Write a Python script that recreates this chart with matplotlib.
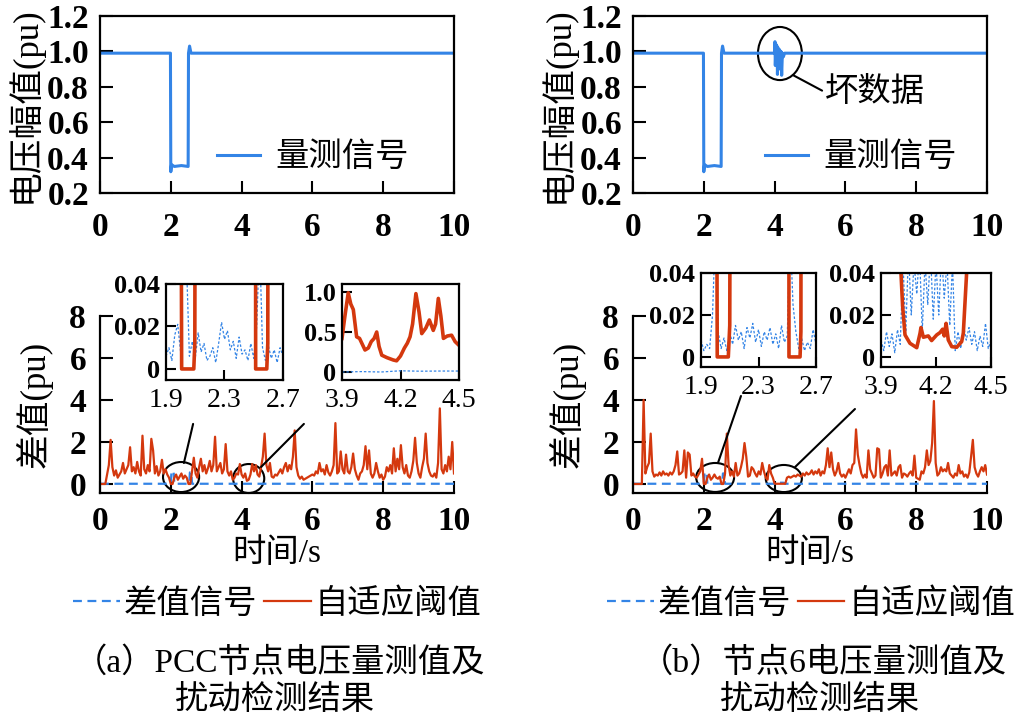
import numpy as np
import matplotlib.pyplot as plt
from matplotlib.patches import Ellipse

plt.rcParams['font.family'] = ['Liberation Serif', 'Noto Sans CJK SC']

BLUE = '#3384e6'
RED = '#d4380e'

# ---------------- measured voltage (pu) ----------------
volt_t_a = [0.0, 1.99, 2.0, 2.02, 2.1, 2.3, 2.49, 2.5, 2.53, 2.57, 10.0]
volt_v_a = [0.99, 0.99, 0.32, 0.36, 0.35, 0.355, 0.35, 0.99, 1.03, 0.99, 0.99]

volt_t_b = [0.0, 1.99, 2.0, 2.02, 2.1, 2.3, 2.49, 2.5, 2.53, 2.57,
            4.0, 4.01, 4.02, 4.04, 4.05, 4.07, 4.08, 4.10, 4.12, 4.14,
            4.16, 4.18, 4.20, 4.22, 4.25, 4.28, 10.0]
volt_v_b = [0.99, 0.99, 0.32, 0.36, 0.35, 0.355, 0.35, 0.99, 1.03, 0.99,
            0.99, 1.055, 0.92, 1.04, 0.95, 1.03, 0.87, 1.02, 0.90, 1.01,
            0.93, 1.0, 0.865, 0.99, 0.97, 0.99, 0.99]

# ---------------- difference signal & adaptive threshold ----------------
t_grid = np.linspace(0, 10, 201)   # 0.05 s spacing

thr_a = [
    0, 0, 0, 0, 0.45, 0.9, 2.1, 0.8, 0.4, 0.65, 0.3, 0.45, 0.6, 1.0, 0.5, 0.7, 0.9, 1.75, 0.6, 0.8,
    0.5, 1.05, 0.6, 0.4, 2.3, 0.7, 0.5, 0.9, 0.6, 2.15, 1.6, 0.5, 0.85, 0.4, 0.6, 1.15, 0.5, 0.7, 0.45, 0.3,
    0.0, 0.0, 0.3, 0.45, 0.2, 0.35, 0.5, 0.25, 0.4, 0.3, 0.0, 0.0, 0.6, 1.25, 0.5, 0.3, 0.8, 1.2, 0.6, 0.9,
    0.5, 0.75, 1.1, 0.6, 0.9, 2.25, 0.6, 0.8, 1.0, 0.5, 0.7, 1.9, 0.6, 0.4, 0.6, 0.2, 0.3, 0.5, 0.45, 0.95,
    0.45, 0.3, 0.5, 0.15, 0.2, 0.45, 0.95, 0.6, 0.9, 0.45, 0.35, 0.8, 1.3, 2.4, 0.9, 0.6, 1.0, 0.35, 0.3, 0.45,
    0.4, 0.55, 0.7, 0.5, 0.8, 1.0, 0.6, 0.9, 0.7, 1.3, 2.55, 0.8, 0.4, 0.25, 0.35, 0.2, 0.25, 0.3, 0.35, 0.4,
    0.45, 0.4, 0.6, 0.5, 1.0, 0.6, 0.7, 0.45, 0.9, 0.55, 0.4, 0.6, 0.9, 2.9, 0.5, 0.6, 1.55, 0.7, 0.5, 1.4,
    0.6, 0.5, 0.8, 1.45, 0.7, 0.4, 0.2, 0.5, 0.6, 0.9, 1.8, 0.7, 1.6, 0.5, 0.3, 0.5, 1.0, 0.6, 0.3, 0.45,
    0.2, 0.35, 0.8, 0.6, 0.9, 0.5, 1.7, 0.6, 1.2, 0.7, 1.85, 0.8, 0.5, 0.9, 0.4, 0.3, 0.6, 1.1, 2.2, 1.0,
    0.5, 0.3, 0.8, 1.2, 2.4, 1.0, 0.6, 0.4, 0.35, 0.5, 0.3, 1.0, 3.6, 0.7, 0.5, 0.9, 0.6, 1.3, 0.7, 2.0,
    0.5]

thr_b = [
    0, 0, 0, 0, 0, 0, 4.0, 0.5, 0.8, 1.0, 2.4, 0.6, 0.35, 0.45, 0.4, 0.55, 0.4, 0.6, 0.45, 0.5,
    0.4, 0.55, 0.45, 0.6, 0.9, 1.55, 0.45, 0.5, 0.6, 1.6, 0.3, 1.5, 1.4, 0.4, 0.5, 0.35, 0.3, 0.45, 0.6, 1.2,
    0.0, 0.0, 0.3, 0.45, 0.2, 0.3, 0.45, 0.3, 0.25, 0.35, 0.0, 0.0, 0.5, 2.4, 0.9, 0.4, 0.6, 0.35, 1.0, 0.4,
    0.5, 0.8, 1.2, 1.95, 1.3, 0.35, 0.4, 0.8, 0.7, 0.5, 0.35, 0.6, 0.45, 1.0, 0.6, 0.3, 0.2, 0.9, 0.5, 0.3,
    0.02, 0.01, 0.01, 0.01, 0.01, 0.01, 0.01, 0.3, 0.35, 0.3, 0.35, 0.4, 0.35, 0.45, 0.4, 0.35, 0.5, 0.4, 0.55, 0.45,
    0.5, 0.65, 0.45, 0.6, 0.5, 0.7, 0.4, 0.6, 0.5, 0.9, 1.7, 0.8, 1.5, 0.7, 0.4, 0.6, 1.0, 0.5, 0.35, 0.45,
    0.3, 0.5, 0.7, 0.5, 0.9, 1.0, 2.6, 1.4, 0.9, 0.5, 0.3, 0.45, 0.3, 1.6, 0.7, 0.5, 0.3, 0.4, 1.7, 1.65,
    0.3, 0.5, 0.8, 0.9, 0.4, 1.6, 0.4, 0.5, 0.6, 0.4, 0.8, 0.9, 0.3, 0.5, 0.45, 0.35, 0.5, 0.6, 0.4, 1.35,
    0.3, 0.25, 0.2, 0.6, 0.5, 0.8, 1.6, 0.9, 1.1, 1.95, 3.95, 1.0, 0.4, 0.5, 0.8, 0.6, 0.7, 0.6, 1.0, 0.5,
    0.4, 0.3, 0.5, 0.4, 0.9, 0.5, 0.6, 0.35, 0.45, 0.3, 0.55, 1.3, 2.1, 0.8, 0.5, 0.35, 0.6, 0.8, 0.6, 0.9,
    0.45]

diff_t_a = [0, 2.0, 2.02, 2.08, 2.1, 2.52, 2.54, 2.58, 2.6, 10]
diff_v_a = [0.01, 0.01, 0.6, 0.6, 0.01, 0.01, 0.55, 0.55, 0.01, 0.01]
diff_t_b = [0, 2.0, 2.02, 2.08, 2.1, 2.52, 2.54, 2.58, 2.6, 4.0, 4.05, 4.25, 4.3, 10]
diff_v_b = [0.01, 0.01, 0.55, 0.55, 0.01, 0.01, 0.5, 0.5, 0.01, 0.01, 0.06, 0.06, 0.01, 0.01]

# ---------------- zoomed views ----------------
zoom1_t = np.linspace(1.9, 2.7, 41)
zoom1_diff_a = [0.006, 0.010, 0.004, 0.016, 0.021, 0.008, 0.06, 0.05, 0.006, 0.013,
                0.005, 0.017, 0.008, 0.012, 0.004, 0.006, 0.010, 0.003, 0.012, 0.022,
                0.014, 0.018, 0.009, 0.013, 0.005, 0.015, 0.007, 0.009, 0.004, 0.012,
                0.005, 0.020, 0.06, 0.010, 0.004, 0.011, 0.005, 0.009, 0.003, 0.010, 0.006]
zoom1_thr_t_a = [1.95, 2.005, 2.007, 2.09, 2.097, 2.105, 2.3, 2.511, 2.513, 2.589, 2.596, 2.602, 2.7]
zoom1_thr_v_a = [0.4, 0.05, 0.0, 0.0, 0.012, 0.3, 0.4, 0.3, 0.0, 0.0, 0.012, 0.4, 0.5]

zoom1_diff_b = [0.008, 0.003, 0.006, 0.004, 0.02, 0.06, 0.012, 0.004, 0.009, 0.003,
                0.012, 0.006, 0.015, 0.008, 0.012, 0.004, 0.014, 0.009, 0.016, 0.007,
                0.013, 0.005, 0.012, 0.008, 0.014, 0.006, 0.011, 0.004, 0.015, 0.007,
                0.010, 0.06, 0.025, 0.012, 0.004, 0.009, 0.003, 0.007, 0.004, 0.013, 0.006]
zoom1_thr_t_b = [1.95, 2.011, 2.013, 2.09, 2.10, 2.11, 2.3, 2.510, 2.512, 2.589, 2.595, 2.60, 2.7]
zoom1_thr_v_b = [0.4, 0.05, 0.0, 0.0, 0.015, 0.3, 0.4, 0.3, 0.0, 0.0, 0.012, 0.4, 0.5]

zoom2_t_a = [3.9, 3.915, 3.932, 3.945, 3.958, 3.975, 3.99, 4.018, 4.035, 4.05, 4.065, 4.078,
             4.09, 4.104, 4.13, 4.163, 4.18, 4.2, 4.22, 4.235, 4.249, 4.262, 4.279, 4.295,
             4.309, 4.33, 4.348, 4.368, 4.38, 4.394, 4.407, 4.42, 4.44, 4.462, 4.48, 4.497]
zoom2_thr_a = [0.42, 0.7, 0.99, 0.85, 0.78, 0.44, 0.42, 0.275, 0.3, 0.38, 0.42, 0.50,
               0.32, 0.21, 0.18, 0.15, 0.14, 0.2, 0.3, 0.36, 0.44, 0.6, 0.98, 0.75,
               0.48, 0.55, 0.65, 0.52, 0.6, 0.92, 0.7, 0.42, 0.45, 0.46, 0.38, 0.34]
zoom2_diff_t_a = [3.9, 4.0, 4.1, 4.2, 4.3, 4.4, 4.5]
zoom2_diff_a = [0.0, 0.005, 0.0, 0.015, 0.01, 0.012, 0.012]

zoom2_t_b = np.linspace(3.9, 4.5, 41)
zoom2_diff_b = [0.008, 0.003, 0.012, 0.005, 0.011, 0.002, 0.013, 0.006, 0.045, 0.012,
                0.05, 0.02, 0.045, 0.03, 0.05, 0.012, 0.045, 0.025, 0.05, 0.018,
                0.045, 0.02, 0.05, 0.028, 0.045, 0.015, 0.045, 0.003, 0.012, 0.004,
                0.015, 0.008, 0.014, 0.006, 0.012, 0.003, 0.010, 0.005, 0.016, 0.004, 0.008]
zoom2_thr_t_b = [3.95, 4.005, 4.009, 4.018, 4.031, 4.058, 4.095, 4.113, 4.118, 4.131, 4.158,
                 4.176, 4.204, 4.222, 4.236, 4.245, 4.255, 4.267, 4.286, 4.313, 4.34, 4.349,
                 4.367, 4.38, 4.45]
zoom2_thr_b = [0.3, 0.1, 0.04, 0.024, 0.0105, 0.0065, 0.0044, 0.0113, 0.014, 0.0094, 0.01,
               0.0078, 0.0105, 0.0116, 0.0132, 0.01, 0.016, 0.0081, 0.0049, 0.0046, 0.0073, 0.0113,
               0.04, 0.1, 0.3]

fig = plt.figure(figsize=(10.18, 7.19), dpi=100)
W, H = 1018.0, 719.0


def box(l, t, r, b):
    return [l / W, 1 - b / H, (r - l) / W, (b - t) / H]


def style(ax, size=24, length=9, pad=6, bold=False):
    ax.tick_params(direction='in', length=length, width=1.5, labelsize=size, pad=pad,
                   top=False, right=False)
    for s in ax.spines.values():
        s.set_linewidth(1.6)
    if bold:
        for lab in ax.get_xticklabels() + ax.get_yticklabels():
            lab.set_fontweight('bold')


def top_panel(left, right, tt, vv, leg_x):
    ax = fig.add_axes(box(left, 16, right, 193))
    ln, = ax.plot(tt, vv, color=BLUE, lw=2.2)
    ax.set_xlim(0, 10)
    ax.set_ylim(0.2, 1.2)
    ax.set_xticks([0, 2, 4, 6, 8, 10])
    ax.set_yticks([0.2, 0.4, 0.6, 0.8, 1.0, 1.2])
    ax.set_yticklabels(['0.2', '0.4', '0.6', '0.8', '1.0', '1.2'])
    style(ax, bold=True)
    ax.tick_params(axis='x', pad=14)
    ax.tick_params(axis='y', pad=8)
    ax.set_ylabel('电压幅值(pu)', fontsize=25, labelpad=3)
    ax.legend([ln], ['量测信号'], loc='center left', bbox_to_anchor=(leg_x, 0.198),
              frameon=False, fontsize=24, handlelength=1.3, handletextpad=0.45,
              borderpad=0, borderaxespad=0)
    return ax


def bottom_panel(left, right, thr, dt, dv, ells, lines):
    ax = fig.add_axes(box(left, 316, right, 493))
    hb, = ax.plot(dt, dv, color=BLUE, lw=1.6, dashes=(4, 2.5))
    hr, = ax.plot(t_grid, thr, color=RED, lw=1.6)
    ax.set_xlim(0, 10)
    ax.set_ylim(-0.43, 8)
    ax.set_xticks([0, 2, 4, 6, 8, 10])
    ax.set_yticks([0, 2, 4, 6, 8])
    ax.spines['top'].set_visible(False)
    ax.spines['right'].set_visible(False)
    style(ax, bold=True)
    ax.tick_params(axis='x', pad=9)
    ax.tick_params(axis='y', pad=10)
    ax.set_xlabel('时间/s', fontsize=24, labelpad=1)
    ax.set_ylabel('差值(pu)', fontsize=25, labelpad=12)
    for (cx, cy, w, h) in ells:
        ax.add_patch(Ellipse((cx, cy), w, h, fill=False, ec='black', lw=1.5, clip_on=False))
    for (x0, y0, x1, y1) in lines:
        ax.annotate('', xy=(x1, y1), xytext=(x0, y0),
                    arrowprops=dict(arrowstyle='-', color='black', lw=1.5,
                                    shrinkA=0, shrinkB=0))
    return ax, hb, hr


def inset(rect, xlim, xticks, ylim, yticks, ylabels):
    ax = fig.add_axes(rect)
    ax.set_facecolor('white')
    ax.set_xlim(*xlim)
    ax.set_ylim(*ylim)
    ax.set_xticks(xticks)
    ax.set_xticklabels([f'{v:.1f}' for v in xticks])
    ax.set_yticks(yticks)
    ax.set_yticklabels(ylabels)
    style(ax, size=19, length=7, pad=4)
    for lab in ax.get_yticklabels():
        lab.set_fontweight('bold')
    ax.tick_params(axis='x', pad=6, labelsize=20)
    return ax


# ---- (a) ----
top_panel(100, 454, volt_t_a, volt_v_a, 0.33)
ax_a, hb, hr = bottom_panel(100, 454, thr_a, diff_t_a, diff_v_a,
                            [(2.29, 0.33, 1.02, 1.43), (4.2, 0.26, 0.88, 1.38)],
                            [(2.37, 1.0, 2.63, 2.86), (4.55, 0.81, 5.76, 2.86)])

ia1 = inset(box(166, 284, 283, 380), (1.9, 2.7), [1.9, 2.3, 2.7], (-0.0052, 0.04),
            [0, 0.02, 0.04], ['0', '0.02', '0.04'])
ia1.plot(zoom1_t, zoom1_diff_a, color=BLUE, lw=0.9, dashes=(2, 1.5))
ia1.plot(zoom1_thr_t_a, zoom1_thr_v_a, color=RED, lw=2.6)

ia2 = inset(box(342, 284, 459, 380), (3.9, 4.5), [3.9, 4.2, 4.5], (-0.1, 1.1),
            [0, 0.5, 1.0], ['0', '0.5', '1.0'])
ia2.plot(zoom2_diff_t_a, zoom2_diff_a, color=BLUE, lw=0.9, dashes=(2, 1.5))
ia2.plot(zoom2_t_a, zoom2_thr_a, color=RED, lw=2.6)

# ---- (b) ----
ax_top_b = top_panel(633, 987, volt_t_b, volt_v_b, 0.373)
ax_top_b.add_patch(Ellipse((4.15, 0.988), 1.24, 0.30, fill=False, ec='black', lw=1.5))
ax_top_b.annotate('坏数据', xy=(4.52, 0.866), xytext=(5.42, 0.77), fontsize=24,
                  va='center', ha='left',
                  arrowprops=dict(arrowstyle='-', color='black', lw=1.5,
                                  shrinkA=0, shrinkB=0,
                                  relpos=(0, 0.5)))
ax_b, _, _ = bottom_panel(633, 987, thr_b, diff_t_b, diff_v_b,
                          [(2.32, 0.31, 1.07, 1.38), (4.26, 0.26, 1.02, 1.29)],
                          [(2.40, 1.0, 3.05, 4.19), (4.58, 0.81, 6.27, 3.57)])

ib1 = inset(box(701, 273, 816, 367), (1.9, 2.7), [1.9, 2.3, 2.7], (-0.0048, 0.04),
            [0, 0.02, 0.04], ['0', '0.02', '0.04'])
ib1.plot(zoom1_t, zoom1_diff_b, color=BLUE, lw=0.9, dashes=(2, 1.5))
ib1.plot(zoom1_thr_t_b, zoom1_thr_v_b, color=RED, lw=2.6)

ib2 = inset(box(881, 273, 991, 367), (3.9, 4.5), [3.9, 4.2, 4.5], (-0.0048, 0.04),
            [0, 0.02, 0.04], ['0', '0.02', '0.04'])
ib2.plot(zoom2_t_b, zoom2_diff_b, color=BLUE, lw=0.9, dashes=(2, 1.5))
ib2.plot(zoom2_thr_t_b, zoom2_thr_b, color=RED, lw=2.6)

# ---- legends and captions ----
for x0 in (73, 607):
    fig.legend([hb, hr], ['差值信号', '自适应阈值'], loc='center left',
               bbox_to_anchor=(x0 / W, 1 - 604 / H), ncol=2, frameon=False, fontsize=24,
               handlelength=1.4, handletextpad=0.12, columnspacing=0.2,
               borderpad=0, borderaxespad=0)

fig.text(280 / W, 1 - 663 / H, '（a）PCC节点电压量测值及', ha='center', va='center', fontsize=24)
fig.text(275 / W, 1 - 700 / H, '扰动检测结果', ha='center', va='center', fontsize=24)
fig.text(823 / W, 1 - 663 / H, '（b）节点6电压量测值及', ha='center', va='center', fontsize=24)
fig.text(820 / W, 1 - 700 / H, '扰动检测结果', ha='center', va='center', fontsize=24)

fig.savefig('out.png', dpi=100)
